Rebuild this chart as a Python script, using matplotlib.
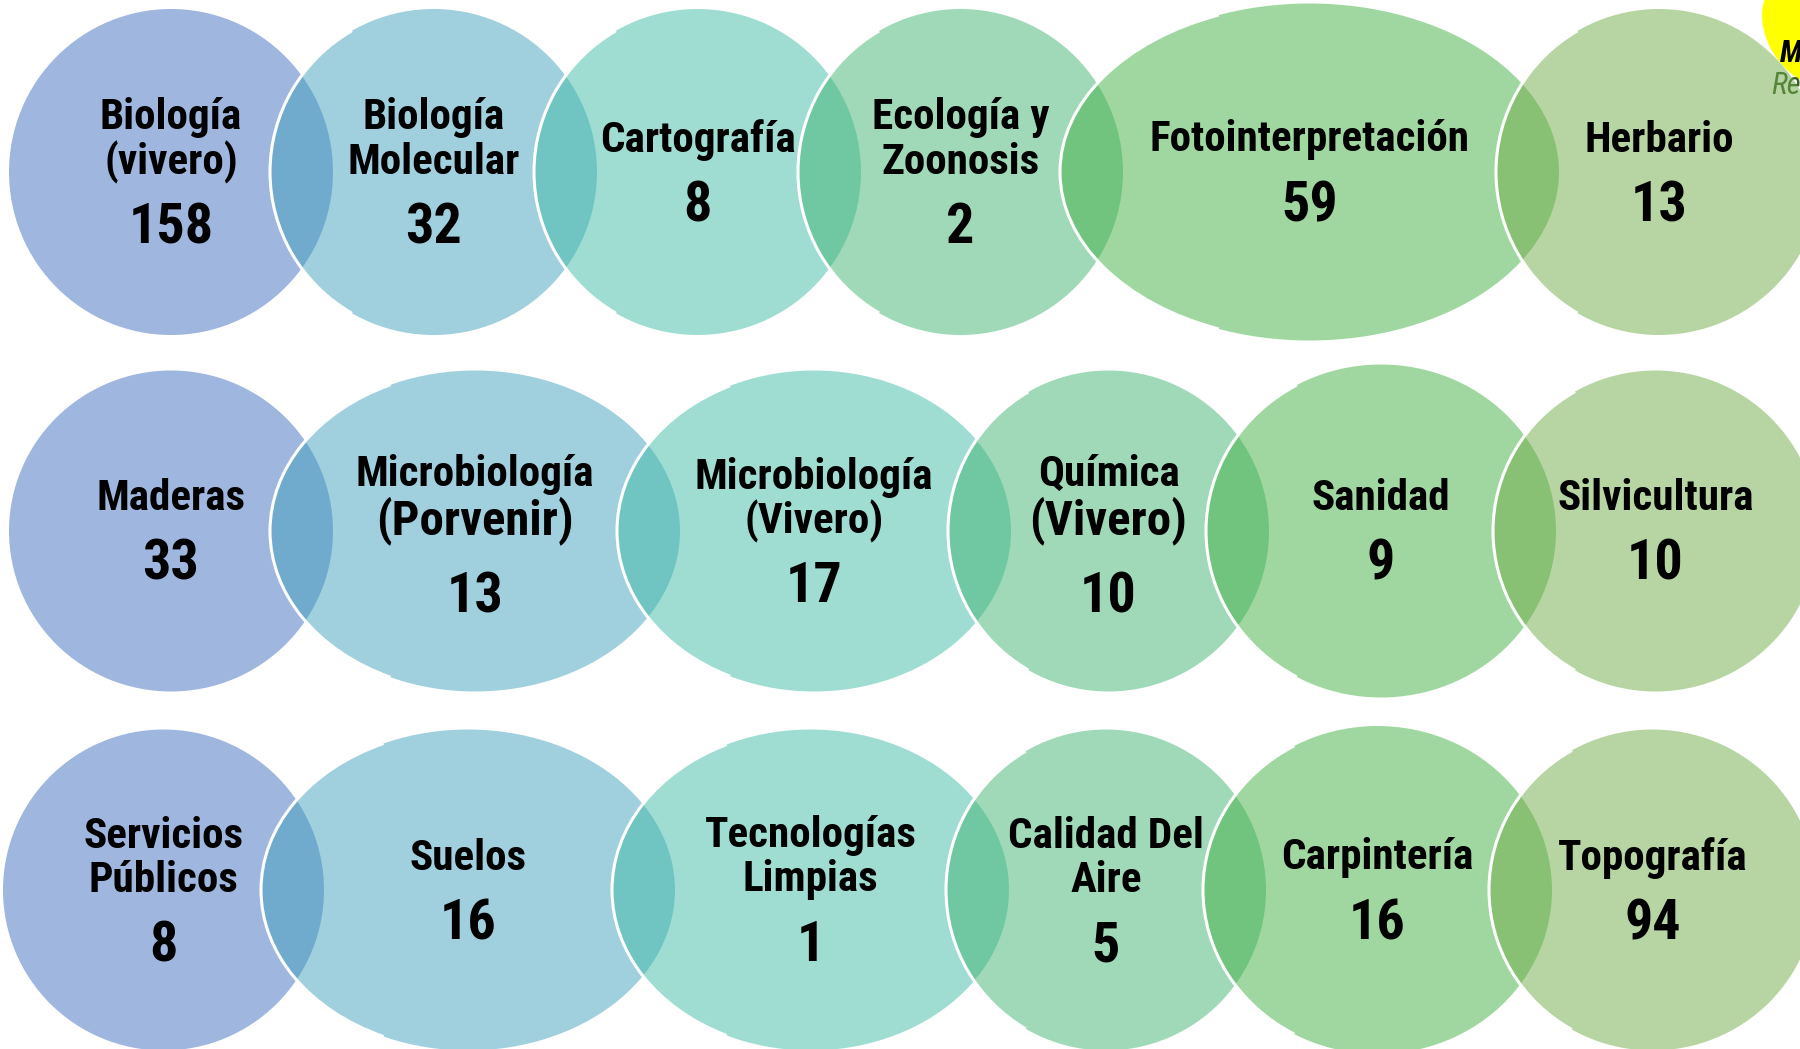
import matplotlib.pyplot as plt
from matplotlib import font_manager
from matplotlib.patches import Ellipse, Arc

# fuente estrecha y negrita (parecida a Arial Narrow); la primera que esté instalada
candidatas = ['Liberation Sans Narrow', 'Arial Narrow', 'Roboto Condensed', 'Archivo Narrow',
              'PT Sans Narrow', 'Open Sans Condensed', 'IBM Plex Sans Condensed']
instaladas = {f.name for f in font_manager.fontManager.ttflist}
fuente = next((n for n in candidatas if n in instaladas), 'DejaVu Sans')
plt.rcParams['font.family'] = [fuente, 'DejaVu Sans']

# Datos: laboratorios (etiqueta por líneas) y su número, por fila
fila1_etiquetas = [["Biología", "(vivero)"], ["Biología", "Molecular"], ["Cartografía"],
                   ["Ecología y", "Zoonosis"], ["Fotointerpretación"], ["Herbario"]]
fila1_valores = [158, 32, 8, 2, 59, 13]

fila2_etiquetas = [["Maderas"], ["Microbiología", "(Porvenir)"], ["Microbiología", "(Vivero)"],
                   ["Química", "(Vivero)"], ["Sanidad"], ["Silvicultura"]]
fila2_valores = [33, 13, 17, 10, 9, 10]

fila3_etiquetas = [["Servicios", "Públicos"], ["Suelos"], ["Tecnologías", "Limpias"],
                   ["Calidad Del", "Aire"], ["Carpintería"], ["Topografía"]]
fila3_valores = [8, 16, 1, 5, 16, 94]

# Colores por columna (se dibujan con alpha 0.5)
colores = ["#416FC1", "#43A1BF", "#41BDA9", "#43B573", "#43B143", "#71AD47"]

# Geometría (px de la figura de 1800x1049)
fila_cy = [172, 531, 890]
fila_x0 = [9, 9, 3]
fila_anchos = [[324, 327, 327, 325, 499, 326],
               [324, 410, 394, 321, 350, 325],
               [321, 414, 397, 320, 349, 327]]
fila_altos = [[326, 326, 326, 326, 337, 326],
              [321, 321, 321, 321, 333, 321],
              [321, 321, 321, 321, 328, 321]]
SOLAPE = 63
INTERLINEA = 44          # px entre líneas de la etiqueta
escala_especial = {(1, 1, 1): 1.13, (1, 3, 1): 1.13}   # líneas algo más grandes

filas = [(fila1_etiquetas, fila1_valores),
         (fila2_etiquetas, fila2_valores),
         (fila3_etiquetas, fila3_valores)]

fig = plt.figure(figsize=(18, 10.49), dpi=100)
ax = fig.add_axes([0, 0, 1, 1])
ax.set_xlim(0, 1800)
ax.set_ylim(1049, 0)
ax.axis('off')

# ajustar tamaños de letra al ancho/alto que tienen en la imagen original
renderer = fig.canvas.get_renderer()
t = ax.text(0, 0, "Fotointerpretación", fontsize=30, fontweight='bold')
TAM_ETIQ = 30 * 308 / t.get_window_extent(renderer).width * 1.04
t.remove()
t = ax.text(0, 0, "158", fontsize=30, fontweight='bold')
TAM_NUM = 30 * 71 / t.get_window_extent(renderer).width * 1.2
t.remove()

# logo (esquina superior derecha, cortado)
ax.add_patch(Ellipse((1815, 30), 95, 125, angle=-35, facecolor="#FFFF00", edgecolor='none', zorder=0))
ax.text(1780, 53, "M", fontsize=22, fontweight='bold', fontstyle='italic', color='black',
        va='center', ha='left', zorder=6, clip_on=True)
ax.text(1771, 86, "Re", fontsize=22, fontstyle='italic', color='#3B5E2B',
        va='center', ha='left', zorder=6, clip_on=True)

for r, (etiquetas, valores) in enumerate(filas):
    cy = fila_cy[r]
    izq = fila_x0[r]
    for c in range(len(valores)):
        w = fila_anchos[r][c]
        h = fila_altos[r][c]
        cx = izq + w / 2
        izq = izq + w - SOLAPE
        z = 1 + c

        if r == 0 and c == 5:
            # fondo blanco para que el logo quede detrás del círculo
            ax.add_patch(Ellipse((cx, cy), w, h, facecolor='white', edgecolor='none', zorder=0.5))

        ax.add_patch(Ellipse((cx, cy), w, h, facecolor=colores[c], alpha=0.5,
                             edgecolor='none', zorder=z))
        if c > 0:
            ax.add_patch(Arc((cx, cy), w, h, theta1=120, theta2=240, color='white',
                             lw=2.2, zorder=z + 0.5))

        lineas = etiquetas[c]
        escalas = [escala_especial.get((r, c, i), 1.0) for i in range(len(lineas))]
        altos = [INTERLINEA * e for e in escalas]
        y = cy - 32 - sum(altos) / 2
        for i, linea in enumerate(lineas):
            y_l = y + altos[i] / 2
            ax.text(cx, y_l, linea, fontsize=TAM_ETIQ * escalas[i], fontweight='bold',
                    ha='center', va='center', zorder=10)
            y += altos[i]
        extra = 8 if escalas[-1] > 1 else 0
        ax.text(cx, y_l + altos[-1] / 2 + 44 + extra, str(valores[c]), fontsize=TAM_NUM,
                fontweight='bold', ha='center', va='center', zorder=10)

fig.savefig("out.png", dpi=100)
